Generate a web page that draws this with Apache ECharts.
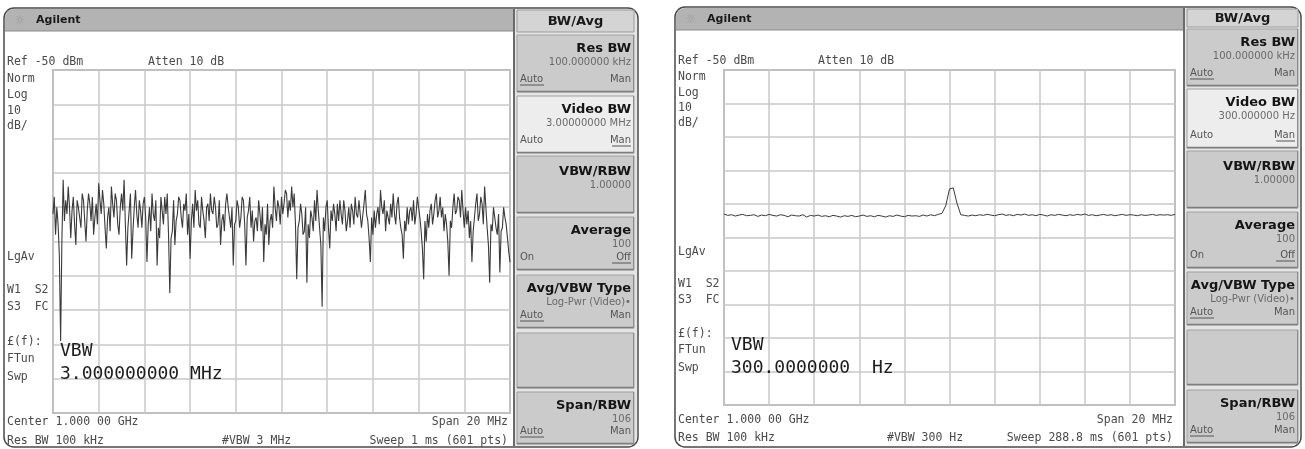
<!DOCTYPE html>
<html><head><meta charset="utf-8">
<script src="https://cdn.jsdelivr.net/npm/echarts@6/dist/echarts.min.js"></script>
<style>html,body{margin:0;padding:0;background:#fff}#c{width:1305px;height:449px}</style>
</head><body><div id="c"></div>
<script>
// ---- data (read from the two analyzer screens) ----
const spanMHz = [-10, 10];           // center 1 GHz, span 20 MHz
const refLevel = [-150, -50];        // Ref -50 dBm, 10 dB/div
const leftTrace = [
-92,-87,-98,-90,-95,-104,-129,-100,-82,-94,-88,-92,-84,-90,-99,-91,-87,-95,-101,-88,
-90,-93,-96,-86,-88,-94,-100,-91,-86,-89,-94,-87,-98,-93,-89,-95,-83,-88,-92,-85,
-89,-96,-102,-93,-90,-97,-84,-89,-93,-86,-88,-95,-98,-90,-86,-91,-82,-95,-107,-96,
-91,-86,-105,-97,-90,-85,-92,-96,-88,-91,-96,-89,-87,-93,-106,-95,-90,-97,-86,-92,
-94,-88,-107,-96,-99,-87,-91,-95,-87,-92,-86,-98,-115,-99,-97,-88,-101,-94,-92,-87,
-88,-93,-96,-89,-91,-86,-98,-92,-105,-94,-89,-96,-85,-91,-88,-95,-96,-87,-91,-94,
-99,-90,-89,-94,-86,-91,-92,-87,-90,-96,-95,-88,-101,-94,-92,-97,-89,-86,-90,-93,
-96,-90,-107,-95,-94,-88,-90,-96,-93,-87,-88,-95,-107,-93,-91,-87,-96,-91,-100,-94,
-93,-97,-88,-92,-97,-90,-106,-95,-98,-89,-101,-94,-92,-96,-84,-90,-94,-88,-90,-95,
-87,-92,-89,-85,
-86,-93,-88,-91,-84,-90,-86,-95,-111,-96,-94,-89,-92,-98,-97,-90,-112,-95,-99,-91,
-93,-97,-88,-94,-85,-91,-96,-101,-119,-93,-97,-90,-88,-96,-102,-91,-94,-89,-92,-97,
-89,-94,-88,-92,-95,-88,-91,-97,-94,-90,-96,-89,-91,-95,-87,-92,-93,-88,-92,-96,
-96,-89,-85,-92,-94,-99,-106,-93,-98,-91,-96,-92,-90,-95,-85,-90,-92,-88,-97,-91,
-91,-95,-89,-93,-86,-92,-95,-89,-87,-93,-96,-98,-105,-94,-97,-90,-95,-91,-90,-94,
-88,-95,-92,-87,-90,-93,-97,-102,-111,-94,-100,-92,-96,-91,-89,-95,-92,-88,-86,-93,
-91,-87,-93,-90,-97,-92,-95,-100,-110,-94,-96,-90,-86,-92,-91,-87,-88,-93,-85,-91,
-96,-90,-95,-91,-99,-94,-106,-97,-93,-89,-86,-94,-92,-87,-89,-95,-84,-90,-96,-101,
-112,-95,-97,-90,-93,-96,-98,-92,-109,-97,-96,-90,-93,-95,-99,-103,-106];
const rightTrace = [
-93.0,-93.4,-93.2,-93.6,-93.3,-93.1,-93.5,-93.4,-93.2,-93.7,
-93.3,-93.5,-93.1,-93.4,-93.6,-93.2,-93.4,-93.8,-93.3,-93.5,
-93.6,-93.2,-93.9,-93.4,-93.6,-93.3,-93.7,-93.5,-93.8,-93.4,
-93.6,-93.9,-93.5,-93.7,-93.4,-93.8,-93.6,-93.3,-93.7,-93.5,
-93.8,-93.4,-93.6,-93.9,-93.5,-93.7,-93.3,-93.6,-93.8,-93.4,
-93.6,-93.5,-93.7,-93.3,-93.6,-93.2,-93.5,-93.1,-92.8,
-90.5,-85.5,-85.2,-89.8,
-93.2,-93.4,-93.6,-93.3,-93.5,-93.2,-93.4,-93.1,-93.3,-93.5,
-93.2,-93.0,-93.4,-93.2,-93.5,-93.1,-93.3,-93.0,-93.4,-93.2,
-93.5,-93.1,-93.3,-93.6,-93.2,-93.4,-93.1,-93.3,-93.5,-93.2,
-93.4,-93.1,-93.3,-93.0,-93.4,-93.2,-93.5,-93.3,-93.1,-93.4,
-93.2,-93.5,-93.3,-93.1,-93.4,-93.2,-93.3,-93.5,-93.2,-93.4,
-93.3,-93.1,-93.4,-93.2,-93.3,-93.2,-93.4,-93.1];
const leftVBW = '3.000000000 MHz';
const rightVBW = '300.0000000  Hz';
const leftBottom = ['Center 1.000 00 GHz','Span 20 MHz','Res BW 100 kHz','#VBW 3 MHz','Sweep 1 ms (601 pts)'];
const rightBottom = ['Center 1.000 00 GHz','Span 20 MHz','Res BW 100 kHz','#VBW 300 Hz','Sweep 288.8 ms (601 pts)'];
const leftVideoSub = '3.00000000 MHz';
const rightVideoSub = '300.000000 Hz';

// ---- helpers ----
const MONO = 'DejaVu Sans Mono';
const SANS = 'DejaVu Sans';
const G = [];
function rect(x,y,w,h,fill,stroke,lw,r,z){G.push({type:'rect',silent:true,z:z==null?-10:z,shape:{x:x,y:y,width:w,height:h,r:r||0},style:{fill:fill||'none',stroke:stroke||null,lineWidth:lw||0}});}
function line(x1,y1,x2,y2,stroke,lw,z){G.push({type:'line',silent:true,z:z==null?-9:z,shape:{x1:x1,y1:y1,x2:x2,y2:y2},style:{stroke:stroke,lineWidth:lw}});}
function txt(x,y,s,font,fill,align){G.push({type:'text',silent:true,z:50,x:x,y:y,style:{text:s,font:font,fill:fill,align:align||'left',verticalAlign:'middle',textAlign:align||'left',textVerticalAlign:'middle'}});}

function panel(P){
  rect(P.x0,P.y0,P.x1-P.x0,P.y1-P.y0,'#ffffff','#4a4a4a',1.5,10,-12);
  rect(P.x0+1,P.y0+1,P.sep-P.x0-1,P.tb-P.y0-1,'#b3b3b3',null,0,[9,0,0,0],-11);
  line(P.x0+1,P.tb,P.sep,P.tb,'#8a8a8a',1,-10);
  txt(P.x0+16,(P.y0+P.tb)/2+1,'\u263C','12px '+SANS,'#9a9a9a','center');
  txt(P.x0+32,(P.y0+P.tb)/2+1,'Agilent','bold 11px '+SANS,'#1a1a1a','left');
  rect(P.sep,P.y0+1,P.x1-P.sep-1,P.y1-P.y0-2,'#e4e4e4',null,0,[0,9,9,0],-11);
  line(P.sep,P.y0+1,P.sep,P.y1-1,'#6a6a6a',2,-8);
  rect(P.sx,P.hd[0],P.sw,P.hd[1]-P.hd[0],'#d4d4d4','#9a9a9a',1,0,-9);
  txt(P.sx+P.sw/2,(P.hd[0]+P.hd[1])/2+1,'BW/Avg','bold 13px '+SANS,'#1a1a1a','center');
  P.keys.forEach(function(k,i){
    const y0=k[0], y1=k[1], c=P.content[i];
    rect(P.sx,y0,P.sw,y1-y0,c.active?'#ededed':'#cbcbcb','#a0a0a0',1,0,-9);
    line(P.sx,y1-0.5,P.sx+P.sw,y1-0.5,'#7e7e7e',1.5,-8);
    line(P.sx+P.sw-0.5,y0,P.sx+P.sw-0.5,y1,'#8e8e8e',1,-8);
    const R=P.sx+P.sw-3, L=P.sx+3;
    if(c.title){ txt(R,y0+(c.auto?14:16),c.title,'bold 13px '+SANS,'#151515','right'); }
    if(c.sub){ txt(R,y0+(c.auto?27:29),c.sub,'10px '+SANS,'#6a6a6a','right'); }
    if(c.auto){
      const ay=y1-13;
      txt(L,ay,c.auto,'10px '+SANS,'#555','left');
      txt(R,ay,c.man,'10px '+SANS,'#555','right');
      if(c.ul==='a'){ const w=c.auto.length*6; line(L,ay+6,L+w,ay+6,'#555',1,-7); }
      if(c.ul==='m'){ const w=c.man.length*6.3; line(R-w,ay+6,R,ay+6,'#555',1,-7); }
    }
  });
  const ax=P.x0+3, f='11.5px '+MONO, col='#4a4a4a';
  txt(ax,P.ann.ref,'Ref -50 dBm',f,col);
  txt(P.atten,P.ann.ref,'Atten 10 dB',f,col);
  const L=P.ann.lines;
  txt(ax,L[0],'Norm',f,col); txt(ax,L[1],'Log',f,col); txt(ax,L[2],'10',f,col); txt(ax,L[3],'dB/',f,col);
  txt(ax,L[4],'LgAv',f,col); txt(ax,L[5],'W1  S2',f,col); txt(ax,L[6],'S3  FC',f,col);
  txt(ax,L[7],'\u00A3(f):',f,col); txt(ax,L[8],'FTun',f,col); txt(ax,L[9],'Swp',f,col);
  txt(P.gx+7,P.ann.vbw[0],'VBW','18px '+MONO,'#1c1c1c');
  txt(P.gx+7,P.ann.vbw[1],P.vbwText,'18px '+MONO,'#1c1c1c');
  const B=P.bottom;
  txt(ax,P.ann.bot[0],B[0],f,col);
  txt(P.gx2-2,P.ann.bot[0],B[1],f,col,'right');
  txt(ax,P.ann.bot[1],B[2],f,col);
  txt(P.vbwx,P.ann.bot[1],B[3],f,col);
  txt(P.gx2-2,P.ann.bot[1],B[4],f,col,'right');
}
function keyContent(videoSub){
  return [
    {title:'Res BW',sub:'100.000000 kHz',auto:'Auto',man:'Man',ul:'a'},
    {title:'Video BW',sub:videoSub,auto:'Auto',man:'Man',ul:'m',active:true},
    {title:'VBW/RBW',sub:'1.00000'},
    {title:'Average',sub:'100',auto:'On',man:'Off',ul:'m'},
    {title:'Avg/VBW Type',sub:'Log-Pwr (Video)\u2022',auto:'Auto',man:'Man',ul:'a'},
    {},
    {title:'Span/RBW',sub:'106',auto:'Auto',man:'Man',ul:'a'}
  ];
}
const LG={left:53,top:70,width:457,height:343};
const RG={left:724,top:70,width:451,height:335};
panel({x0:4,x1:638,y0:8,y1:447,tb:31,sep:514,sx:517,sw:117,hd:[10,32],
  keys:[[35,92],[96,153],[156,213],[217,270],[275,328],[333,388],[392,444]],
  content:keyContent(leftVideoSub),atten:148,gx:LG.left,gx2:LG.left+LG.width,vbwx:222,
  vbwText:leftVBW,bottom:leftBottom,
  ann:{ref:62,lines:[79,95,111,126,257,290,307,342,359,377],vbw:[351,374],bot:[422,441]}});
panel({x0:675,x1:1301,y0:7,y1:447,tb:30,sep:1184,sx:1187,sw:111,hd:[9,27],
  keys:[[29,86],[89,148],[151,208],[212,268],[272,325],[330,385],[390,443]],
  content:keyContent(rightVideoSub),atten:818,gx:RG.left,gx2:RG.left+RG.width,vbwx:887,
  vbwText:rightVBW,bottom:rightBottom,
  ann:{ref:61,lines:[77,93,108,123,252,284,300,334,350,368],vbw:[345,368],bot:[420,438]}});

function xAx(i){return {type:'value',gridIndex:i,min:spanMHz[0],max:spanMHz[1],interval:2,
  axisLabel:{show:false},axisTick:{show:false},axisLine:{show:false},
  splitLine:{show:true,lineStyle:{color:'#c8c8c8',width:1.5}}};}
function yAx(i){return {type:'value',gridIndex:i,min:refLevel[0],max:refLevel[1],interval:10,
  axisLabel:{show:false},axisTick:{show:false},axisLine:{show:false},
  splitLine:{show:true,lineStyle:{color:'#c8c8c8',width:1.5}}};}
function pts(arr){const n=arr.length;return arr.map(function(v,i){return [spanMHz[0]+(spanMHz[1]-spanMHz[0])*i/(n-1),v];});}

const chart=echarts.init(document.getElementById('c'),null,{renderer:'canvas'});
chart.setOption({
  backgroundColor:'#ffffff',
  animation:false,
  grid:[Object.assign({show:true,borderColor:'#8c8c8c',borderWidth:1.5,containLabel:false},LG),
        Object.assign({show:true,borderColor:'#8c8c8c',borderWidth:1.5,containLabel:false},RG)],
  xAxis:[xAx(0),xAx(1)],
  yAxis:[yAx(0),yAx(1)],
  series:[
    {type:'line',xAxisIndex:0,yAxisIndex:0,data:pts(leftTrace),showSymbol:false,symbol:'none',
     lineStyle:{color:'#3a3a3a',width:1.1},z:3},
    {type:'line',xAxisIndex:1,yAxisIndex:1,data:pts(rightTrace),showSymbol:false,symbol:'none',
     lineStyle:{color:'#3a3a3a',width:1},z:3}
  ],
  graphic:{elements:G}
});
</script></body></html>
